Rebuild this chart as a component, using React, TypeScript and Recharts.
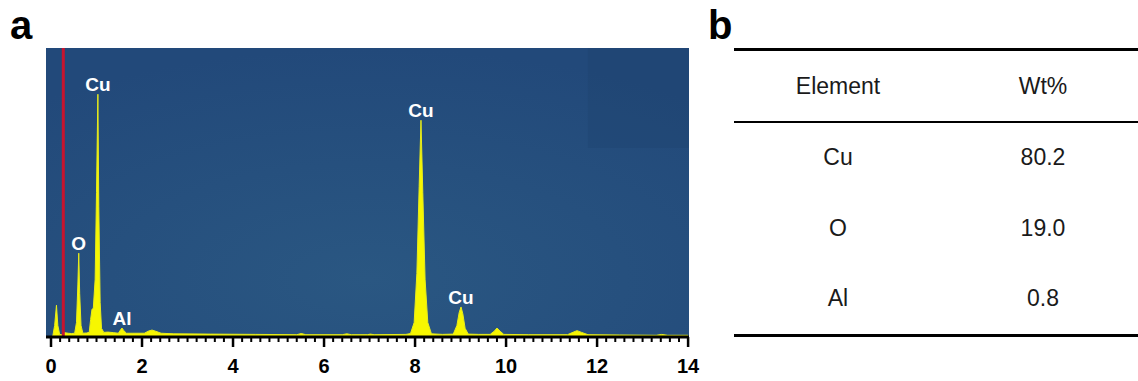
import React from "react";
import {
  ComposedChart,
  Area,
  Scatter,
  XAxis,
  YAxis,
  CartesianGrid,
  ReferenceLine,
  ReferenceArea,
} from "recharts";

// EDS spectrum, energy in keV vs counts (arbitrary units, 0-100)
const energy = [
  0, 0.04, 0.08, 0.12, 0.15, 0.19, 0.24, 0.3, 0.38, 0.45, 0.52, 0.56, 0.59, 0.61,
  0.63, 0.66, 0.7, 0.78, 0.84, 0.87, 0.9, 0.93, 0.97, 1.0, 1.03, 1.05, 1.08,
  1.11, 1.16, 1.25, 1.38, 1.48, 1.53, 1.56, 1.6, 1.66, 1.8, 2.05, 2.15, 2.22,
  2.3, 2.42, 2.7, 3.5, 4.5, 5.4, 5.5, 5.6, 6.4, 6.5, 6.6, 6.95, 7.02, 7.1, 7.8,
  7.9, 7.98, 8.04, 8.09, 8.13, 8.17, 8.22, 8.28, 8.36, 8.6, 8.84, 8.92, 8.97,
  9.01, 9.05, 9.1, 9.17, 9.4, 9.65, 9.74, 9.8, 9.87, 9.95, 10.5, 11.35, 11.48,
  11.56, 11.66, 11.8, 12.5, 13.3, 13.42, 13.55, 14,
];
const counts = [
  0, 0.4, 4, 11, 4, 0.9, 0.8, 1.5, 1.3, 1.2, 1.3, 5, 18, 29, 15, 4, 1.3, 1.4,
  1.6, 6, 9.5, 10, 20, 50, 84, 45, 12, 3, 1.6, 1.7, 1.5, 1.3, 2.5, 3.1, 2.2, 1.3,
  1.3, 1.3, 2.1, 2.4, 2, 1.3, 1.1, 1, 0.9, 0.8, 1.2, 0.8, 0.8, 1.1, 0.8, 0.8, 1,
  0.8, 0.9, 1.2, 5, 22, 52, 75, 50, 20, 5, 1.1, 0.9, 1, 4, 8.5, 10.4, 8, 3, 1,
  0.9, 0.9, 2, 3.1, 2, 0.9, 0.8, 0.8, 1.7, 2.2, 1.6, 0.8, 0.7, 0.6, 0.9, 0.6,
  0.6,
];

const peakNames = ["O", "Cu", "Al", "Cu", "Cu"];
const peakEnergy = [0.61, 1.03, 1.56, 8.13, 9.01];
const peakCounts = [29, 84, 3.1, 75, 10.4];

const majorTicks = [0, 2, 4, 6, 8, 10, 12, 14];
// minor ticks every 0.2 keV
const axisTicks = Array.from({ length: 71 }, (_, i) => +(i * 0.2).toFixed(1));

const elements = ["Cu", "O", "Al"];
const weights = [80.2, 19.0, 0.8];

const spectrum = energy.map((e, i) => ({ e, c: counts[i] }));
const peaks = peakNames.map((name, i) => ({
  e: peakEnergy[i],
  c: peakCounts[i],
  name,
}));

const FONT = "'Liberation Sans', Arial, Helvetica, sans-serif";

const PeakLabel = (props: any) => {
  const { cx, cy, payload } = props;
  return (
    <text
      x={cx}
      y={cy - 3}
      textAnchor="middle"
      fill="#ffffff"
      fontSize={19}
      fontWeight="bold"
      fontFamily={FONT}
    >
      {payload.name}
    </text>
  );
};

const EnergyTick = (props: any) => {
  const { x, y, payload } = props;
  const major = majorTicks.includes(payload.value);
  return (
    <g>
      <line
        x1={x}
        x2={x}
        y1={y}
        y2={y + (major ? 10 : 5)}
        stroke="#000"
        strokeWidth={major ? 2.5 : 2}
      />
      {major && (
        <text
          x={x}
          y={y + 36}
          textAnchor="middle"
          fill="#000"
          fontSize={20}
          fontWeight="bold"
          fontFamily={FONT}
        >
          {payload.value}
        </text>
      )}
    </g>
  );
};

const rowCenters = [157, 228, 298];

export default function App() {
  return (
    <div
      style={{
        position: "absolute",
        left: 0,
        top: 0,
        width: 1138,
        height: 381,
        background: "#fff",
        fontFamily: FONT,
      }}
    >
      <div
        style={{
          position: "absolute",
          left: 10,
          top: 5,
          fontSize: 40,
          lineHeight: "40px",
          fontWeight: "bold",
        }}
      >
        a
      </div>
      <div style={{ position: "absolute", left: 0, top: 0 }}>
        <ComposedChart
          width={700}
          height={381}
          data={spectrum}
          margin={{ top: 48, right: 11, left: 46, bottom: 4 }}
        >
          <defs>
            <radialGradient id="bgGrad" cx="0.5" cy="0.8" r="0.8">
              <stop offset="0%" stopColor="#2a5782" />
              <stop offset="100%" stopColor="#22497a" />
            </radialGradient>
          </defs>
          <CartesianGrid
            horizontal={false}
            vertical={false}
            fill="url(#bgGrad)"
          />
          <XAxis
            type="number"
            dataKey="e"
            domain={[-0.11, 14.02]}
            ticks={axisTicks}
            interval={0}
            height={40}
            tickSize={0}
            tickMargin={0}
            axisLine={{ stroke: "#000", strokeWidth: 3 }}
            tickLine={false}
            tick={<EnergyTick />}
            allowDataOverflow
          />
          <YAxis
            type="number"
            domain={[0, 100]}
            width={0}
            tick={false}
            tickLine={false}
            axisLine={{ stroke: "#000", strokeWidth: 3 }}
          />
          <ReferenceArea
            x1={11.8}
            x2={14.02}
            y1={65.4}
            y2={100}
            fill="#1b3d66"
            fillOpacity={0.2}
            stroke="none"
          />
          <Area
            type="linear"
            dataKey="c"
            stroke="#e8ec1a"
            strokeWidth={1}
            fill="#f7f700"
            fillOpacity={1}
            isAnimationActive={false}
            dot={false}
            activeDot={false}
          />
          <ReferenceLine x={0.27} stroke="#c8142e" strokeWidth={3} />
          <Scatter
            data={peaks}
            dataKey="c"
            shape={PeakLabel}
            isAnimationActive={false}
          />
        </ComposedChart>
      </div>

      <div
        style={{
          position: "absolute",
          left: 708,
          top: 5,
          fontSize: 40,
          lineHeight: "40px",
          fontWeight: "bold",
        }}
      >
        b
      </div>
      <div
        style={{
          position: "absolute",
          left: 734,
          top: 48,
          width: 404,
          height: 3,
          background: "#000",
        }}
      />
      <div
        style={{
          position: "absolute",
          left: 734,
          top: 121,
          width: 404,
          height: 2,
          background: "#000",
        }}
      />
      <div
        style={{
          position: "absolute",
          left: 734,
          top: 334,
          width: 404,
          height: 3,
          background: "#000",
        }}
      />
      {[
        { text: "Element", cx: 838, cy: 86 },
        { text: "Wt%", cx: 1043, cy: 86 },
      ]
        .concat(
          elements.flatMap((el, i) => [
            { text: el, cx: 838, cy: rowCenters[i] },
            { text: weights[i].toFixed(1), cx: 1043, cy: rowCenters[i] },
          ])
        )
        .map((cell, i) => (
          <div
            key={i}
            style={{
              position: "absolute",
              left: cell.cx - 80,
              top: cell.cy - 11.3,
              width: 160,
              textAlign: "center",
              fontSize: 23,
              lineHeight: "23px",
              color: "#1a1a1a",
            }}
          >
            {cell.text}
          </div>
        ))}
    </div>
  );
}
